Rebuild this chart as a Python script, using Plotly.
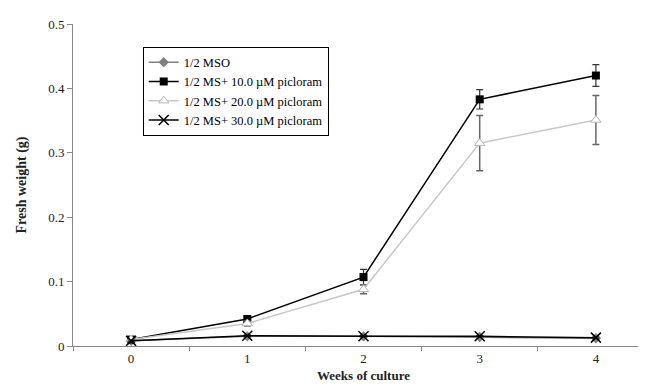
import plotly.graph_objects as go

weeks = ["0", "1", "2", "3", "4"]
names = ["1/2 MSO", "1/2 MS+ 10.0 µM picloram", "1/2 MS+ 20.0 µM picloram", "1/2 MS+ 30.0 µM picloram"]
mso = [0.008, 0.015, 0.015, 0.014, 0.012]
mso_err = [0.001, 0.001, 0.001, 0.001, 0.001]
p10 = [0.010, 0.042, 0.107, 0.383, 0.420]
p10_err = [0.001, 0.004, 0.012, 0.015, 0.017]
p20 = [0.010, 0.035, 0.088, 0.315, 0.351]
p20_err = [0.001, 0.004, 0.007, 0.043, 0.038]
p30 = [0.008, 0.016, 0.015, 0.015, 0.013]
p30_err = [0.001, 0.001, 0.001, 0.001, 0.001]

FONT = "Liberation Serif"

fig = go.Figure()
fig.add_trace(go.Scatter(
    x=weeks, y=mso, name=names[0], mode="lines+markers",
    line=dict(color="#808080", width=1.5),
    marker=dict(symbol="diamond", size=8, color="#808080"),
    error_y=dict(type="data", array=mso_err, color="#555555", thickness=1.2, width=3.5),
))
fig.add_trace(go.Scatter(
    x=weeks, y=p10, name=names[1], mode="lines+markers",
    line=dict(color="black", width=1.5),
    marker=dict(symbol="square", size=8, color="black"),
    error_y=dict(type="data", array=p10_err, color="#333333", thickness=1.2, width=3.5),
))
fig.add_trace(go.Scatter(
    x=weeks, y=p20, name=names[2], mode="lines+markers",
    line=dict(color="#c8c8c8", width=1.5),
    marker=dict(symbol="triangle-up", size=9, color="white", line=dict(color="#b8b8b8", width=1)),
    error_y=dict(type="data", array=p20_err, color="#666666", thickness=1.5, width=3.5),
))
fig.add_trace(go.Scatter(
    x=weeks, y=p30, name=names[3], mode="lines+markers",
    line=dict(color="black", width=1.5),
    marker=dict(symbol="x-thin", size=10, color="black", line=dict(color="black", width=1.5)),
    error_y=dict(type="data", array=p30_err, color="#333333", thickness=1.2, width=3.5),
))

fig.update_layout(
    width=646, height=388,
    margin=dict(l=65, r=0, t=16, b=50),
    paper_bgcolor="white", plot_bgcolor="white",
    font=dict(family=FONT, size=13, color="#222222"),
    showlegend=True,
    legend=dict(
        x=0.12, y=0.93, xanchor="left", yanchor="top",
        bordercolor="black", borderwidth=1, bgcolor="white",
        font=dict(family=FONT, size=12.5, color="black"),
        tracegroupgap=0, itemwidth=30,
    ),
    xaxis=dict(
        type="category", range=[-0.5, 4.5],
        showline=True, linecolor="#888888", linewidth=1,
        ticks="outside", ticklen=4, tickcolor="#888888", tickson="boundaries",
        showgrid=False, zeroline=False,
        tickfont=dict(family=FONT, size=13, color="#222222"),
        title=dict(text="<b>Weeks of culture</b>", font=dict(family=FONT, size=13, color="#222222"), standoff=6),
    ),
    yaxis=dict(
        range=[0, 0.5], tickvals=[0, 0.1, 0.2, 0.3, 0.4, 0.5],
        ticktext=["0", "0.1", "0.2", "0.3", "0.4", "0.5"],
        showline=True, linecolor="#888888", linewidth=1,
        ticks="outside", ticklen=5, tickcolor="#888888",
        showgrid=False, zeroline=False,
        tickfont=dict(family=FONT, size=13, color="#222222"),
        title=dict(text="<b>Fresh weight (g)</b>", font=dict(family=FONT, size=14, color="#222222"), standoff=18),
    ),
)

fig.write_html("out.html")
